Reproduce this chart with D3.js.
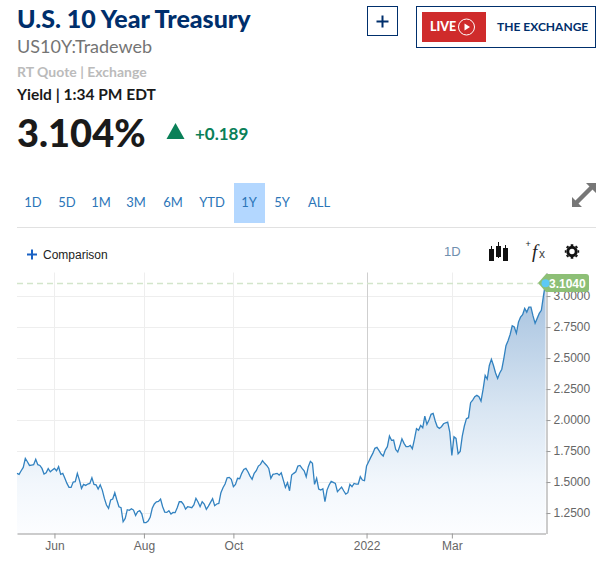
<!DOCTYPE html>
<html>
<head>
<meta charset="utf-8">
<script src="https://cdnjs.cloudflare.com/ajax/libs/d3/7.8.5/d3.min.js"></script>
<style>
  html, body { margin: 0; padding: 0; background: #fff; }
  svg { display: block; }
  .head { font-family: Lato, sans-serif; }
  .axis text { font-family: "Liberation Sans", Arial, sans-serif; font-size: 12px; fill: #666; }
  .axis path, .axis line { stroke: #999; }
  .grid line { stroke: #eee; }
</style>
</head>
<body>
<div id="chart"></div>
<script>
// yield per trading session, split at the axis labels
const mayValues = [1.570,1.562,1.591,1.618,1.691,1.664,1.634,1.637,1.640,1.683,1.640,1.634,1.610,1.565,1.575,1.608,1.583,1.597]
const junJulValues = [1.610,1.591,1.624,1.562,1.570,1.530,1.489,1.457,1.457,1.500,1.503,1.570,1.516,1.449,1.481,1.473,1.484,1.489,1.535,1.481,1.478,1.444,1.478,1.435,1.368,1.315,1.288,1.355,1.363,1.414,1.355,1.301,1.293,1.180,1.207,1.277,1.272,1.285,1.274,1.231,1.261,1.269,1.242]
const augSepValues = [1.172,1.172,1.186,1.215,1.288,1.323,1.341,1.344,1.363,1.301,1.258,1.255,1.269,1.242,1.255,1.253,1.293,1.341,1.341,1.320,1.282,1.301,1.298,1.293,1.315,1.368,1.339,1.301,1.341,1.323,1.280,1.306,1.336,1.366,1.309,1.323,1.328,1.414,1.454,1.484,1.535,1.538,1.522]
const octDecValues = [1.462,1.481,1.530,1.527,1.570,1.602,1.610,1.583,1.548,1.522,1.570,1.591,1.629,1.642,1.672,1.651,1.634,1.610,1.530,1.562,1.565,1.570,1.556,1.575,1.516,1.457,1.495,1.430,1.556,1.570,1.583,1.629,1.634,1.610,1.591,1.543,1.624,1.667,1.651,1.481,1.530,1.444,1.435,1.446,1.341,1.435,1.476,1.505,1.497,1.489,1.422,1.441,1.460,1.430,1.403,1.414,1.481,1.462,1.489,1.484,1.484,1.543,1.516,1.511]
const janFebValues = [1.629,1.664,1.699,1.731,1.772,1.780,1.753,1.726,1.710,1.758,1.785,1.871,1.836,1.839,1.763,1.742,1.790,1.849,1.812,1.785,1.785,1.796,1.769,1.844,1.930,1.917,1.957,1.938,2.032,1.965,2.000,2.046,2.054,1.992,1.946,1.933,1.946,1.970,1.978,1.984,1.903]
const marAprValues = [1.715,1.866,1.852,1.728,1.747,1.871,1.952,2.011,2.019,2.140,2.161,2.188,2.199,2.188,2.153,2.247,2.360,2.330,2.440,2.490,2.440,2.380,2.335,2.380,2.410,2.500,2.600,2.640,2.690,2.760,2.750,2.700,2.790,2.830,2.850,2.900,2.870,2.910,2.910,2.840,2.780,2.820,2.860,2.885,3.000,3.104]

const periods = [mayValues, junJulValues, augSepValues, octDecValues, janFebValues, marAprValues]
const xLabels = ["Jun", "Aug", "Oct", "2022", "Mar"]
const yTicks = [1.25, 1.5, 1.75, 2, 2.25, 2.5, 2.75, 3]
const rangeLabels = ["1D", "5D", "1M", "3M", "6M", "YTD", "1Y", "5Y", "ALL"]
const rangeCenters = [33, 67, 101, 136, 173, 212, 249, 282, 319]

const yields = periods.flat()
const lastValue = yields[yields.length - 1]

// session where each labelled month starts
const xTicks = []
let count = 0
periods.slice(0, -1).forEach(p => { count += p.length; xTicks.push(count) })

const width = 611, height = 566
const margin = { top: 272.5, bottom: 32.5, left: 17, right: 65 }

const svg = d3.select("#chart").append("svg").attr("width", width).attr("height", height)

const xScale = d3.scaleLinear().domain([0, yields.length - 1]).range([margin.left, width - margin.right - 0.5])
const yScale = d3.scaleLinear().domain([1.085, 3.19]).range([height - margin.bottom, margin.top])

/* HEADER */
function label(x, y, str, size, weight, color, anchor) {
  return svg.append("text").attr("class", "head").attr("x", x).attr("y", y)
    .attr("font-size", size).attr("font-weight", weight).attr("fill", color)
    .attr("text-anchor", anchor || "start").text(str)
}
label(17, 28, "U.S. 10 Year Treasury", 25, 900, "#002f6c")
label(17, 53, "US10Y:Tradeweb", 18, 400, "#747474")
label(17, 77, "RT Quote | Exchange", 14, 700, "#bbbbbb")
label(17, 100, "Yield | 1:34 PM EDT", 15.5, 700, "#1a1a1a")
label(17, 147, "3.104%", 38, 900, "#1a1a1a")
label(195, 140, "+0.189", 17, 700, "#0a8058")
svg.append("path").attr("d", "M166.5 139 L175.5 123 L184.5 139 Z").attr("fill", "#0a8058")

// plus button and live box
svg.append("rect").attr("x", 367.5).attr("y", 6.5).attr("width", 30).attr("height", 29)
  .attr("fill", "none").attr("stroke", "#002f6c").attr("stroke-width", 1)
svg.append("path").attr("d", "M376.5 21.5 H388.5 M382.5 15.5 V27.5").attr("stroke", "#002f6c").attr("stroke-width", 2)
svg.append("rect").attr("x", 416.5).attr("y", 6.5).attr("width", 179).attr("height", 41)
  .attr("fill", "none").attr("stroke", "#002f6c").attr("stroke-width", 1)
svg.append("rect").attr("x", 422).attr("y", 12).attr("width", 64).attr("height", 30).attr("fill", "#cf2b2b")
label(430, 31, "LIVE", 12.5, 900, "#fff")
svg.append("circle").attr("cx", 466.5).attr("cy", 27).attr("r", 8).attr("fill", "none").attr("stroke", "#fff").attr("stroke-width", 1)
svg.append("path").attr("d", "M464.5 23.5 L470 27 L464.5 30.5 Z").attr("fill", "#fff")
label(497, 31, "THE EXCHANGE", 12, 700, "#002f6c")

/* RANGE BUTTONS */
svg.append("rect").attr("x", 234).attr("y", 183).attr("width", 31).attr("height", 40).attr("fill", "#b3d7ff")
svg.selectAll(".range").data(rangeLabels).join("text")
  .attr("class", "range head")
  .attr("x", (d, i) => rangeCenters[i])
  .attr("y", 207)
  .attr("text-anchor", "middle")
  .attr("font-size", 13)
  .attr("fill", "#2b75b8")
  .text(d => d)

// expand arrows
svg.append("path").attr("d", "M576 203 L592 187").attr("stroke", "#777").attr("stroke-width", 4.5)
svg.append("path").attr("d", "M572 207 V197 L582 207 Z M596 183 V193 L586 183 Z").attr("fill", "#777")
svg.append("line").attr("x1", 17).attr("x2", 596).attr("y1", 227.5).attr("y2", 227.5).attr("stroke", "#e1e1e1")

/* TOOLBAR */
svg.append("path").attr("d", "M27 254.5 H37 M32 249.5 V259.5").attr("stroke", "#1a62c4").attr("stroke-width", 2)
svg.append("text").attr("x", 43).attr("y", 259).attr("font-family", "'Liberation Sans', sans-serif")
  .attr("font-size", 12).attr("fill", "#222").text("Comparison")
svg.append("text").attr("x", 444).attr("y", 256).attr("font-family", "'Liberation Sans', sans-serif")
  .attr("font-size", 13).attr("fill", "#6f8fae").text("1D")

// candlestick icon
const candles = [{ x: 489, y: 249, h: 12, t: 246, b: 261 }, { x: 496, y: 246, h: 11, t: 242, b: 258 }, { x: 503, y: 248, h: 13, t: 245, b: 261 }]
candles.forEach(c => {
  svg.append("line").attr("x1", c.x + 2.5).attr("x2", c.x + 2.5).attr("y1", c.t).attr("y2", c.b).attr("stroke", "#111")
  svg.append("rect").attr("x", c.x).attr("y", c.y).attr("width", 5).attr("height", c.h).attr("fill", "#111")
})
// fx icon
svg.append("text").attr("x", 525.5).attr("y", 247).attr("font-size", 9).attr("font-family", "'Liberation Sans', sans-serif").attr("fill", "#222").text("+")
svg.append("text").attr("x", 532).attr("y", 258).attr("font-size", 19).attr("font-style", "italic")
  .attr("font-family", "'Liberation Serif', serif").attr("fill", "#222").text("f")
svg.append("text").attr("x", 539).attr("y", 258).attr("font-size", 12).attr("font-family", "'Liberation Sans', sans-serif").attr("fill", "#444").text("x")
// settings gear
svg.append("path").attr("transform", "translate(572,251.5)")
  .attr("d", d3.range(8).map(i => {
    const a = i * Math.PI / 4
    return `M${5.6 * Math.cos(a)} ${5.6 * Math.sin(a)} L${7.2 * Math.cos(a)} ${7.2 * Math.sin(a)}`
  }).join(" "))
  .attr("stroke", "#111").attr("stroke-width", 2.6)
svg.append("circle").attr("cx", 572).attr("cy", 251.5).attr("r", 4.2).attr("fill", "none").attr("stroke", "#111").attr("stroke-width", 3)

/* GRID */
const gridH = svg.append("g").attr("class", "grid")
gridH.selectAll("line").data(yTicks).join("line")
  .attr("x1", margin.left).attr("x2", width - margin.right)
  .attr("y1", d => Math.round(yScale(d)) + 0.5).attr("y2", d => Math.round(yScale(d)) + 0.5)
const gridV = svg.append("g").attr("class", "grid")
gridV.selectAll("line").data(xTicks).join("line")
  .attr("x1", d => Math.round(xScale(d)) + 0.5).attr("x2", d => Math.round(xScale(d)) + 0.5)
  .attr("y1", margin.top).attr("y2", height - margin.bottom)
  .style("stroke", (d, i) => xLabels[i] === "2022" ? "#cfcfcf" : null)

/* AREA AND LINE */
const grad = svg.append("defs").append("linearGradient").attr("id", "fade")
  .attr("gradientUnits", "userSpaceOnUse").attr("x1", 0).attr("x2", 0)
  .attr("y1", yScale(lastValue)).attr("y2", height - margin.bottom)
grad.append("stop").attr("offset", 0).attr("stop-color", "#a3c0de")
grad.append("stop").attr("offset", 0.5).attr("stop-color", "#d8e5f2")
grad.append("stop").attr("offset", 0.8).attr("stop-color", "#f2f7fc")
grad.append("stop").attr("offset", 1).attr("stop-color", "#fcfdff")

const area = d3.area().x((d, i) => xScale(i)).y0(height - margin.bottom).y1(d => yScale(d))
const line = d3.line().x((d, i) => xScale(i)).y(d => yScale(d))
svg.append("path").datum(yields).attr("d", area).attr("fill", "url(#fade)")
svg.append("path").datum(yields).attr("d", line).attr("fill", "none").attr("stroke", "#3282c0").attr("stroke-width", 1.3)

/* AXES */
svg.append("g").attr("class", "axis")
  .attr("transform", `translate(0,${height - margin.bottom})`)
  .call(d3.axisBottom(xScale).tickValues(xTicks).tickFormat((d, i) => xLabels[i]).tickSize(5).tickSizeOuter(0))
svg.append("g").attr("class", "axis")
  .attr("transform", `translate(${width - margin.right + 0.5},0)`)
  .call(d3.axisRight(yScale).tickValues(yTicks).tickFormat(d3.format(".4f")).tickSize(4).tickSizeOuter(0))

/* CURRENT VALUE */
const yNow = Math.round(yScale(lastValue))
svg.append("line").attr("x1", margin.left).attr("x2", 540).attr("y1", yNow + 0.5).attr("y2", yNow + 0.5)
  .attr("stroke", "#d3e5cb").attr("stroke-width", 1.3).attr("stroke-dasharray", "6,4")
svg.append("path")
  .attr("d", `M538 ${yNow} L546 ${yNow - 9} H586 Q589 ${yNow - 9} 589 ${yNow - 6} V${yNow + 6} Q589 ${yNow + 9} 586 ${yNow + 9} H546 Z`)
  .attr("fill", "#8dbf76")
svg.append("circle").attr("cx", xScale(yields.length - 1)).attr("cy", yScale(lastValue)).attr("r", 4).attr("fill", "#5cc9f5")
svg.append("text").attr("x", 549).attr("y", yNow + 4.5).attr("font-family", "'Liberation Sans', sans-serif")
  .attr("font-size", 12).attr("font-weight", 700).attr("fill", "#fff").text(lastValue.toFixed(4))
</script>
</body>
</html>
